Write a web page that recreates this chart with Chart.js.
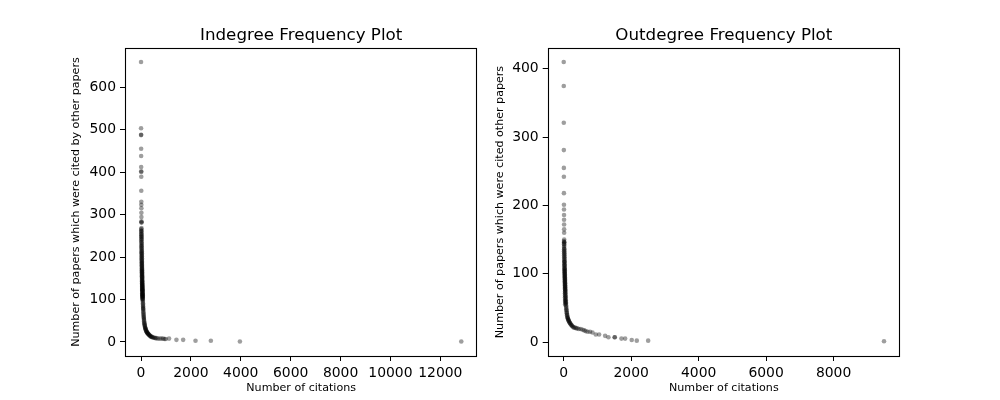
<!DOCTYPE html>
<html>
<head>
<meta charset="utf-8">
<script src="https://cdn.jsdelivr.net/npm/chart.js@4/dist/chart.umd.min.js"></script>
<style>
  html, body { margin: 0; padding: 0; background: #fff; }
  #wrap { position: relative; width: 1000px; height: 400px; overflow: hidden; }
  canvas { position: absolute; top: 0; }
  #inChart { left: 0; }
  #outChart { left: 450px; }
</style>
</head>
<body>
<div id="wrap">
  <canvas id="inChart" width="500" height="400"></canvas>
  <canvas id="outChart" width="550" height="400"></canvas>
</div>
<script>
// indegree: number of citations -> number of papers
const inDegree = [1,2,3,4,5,6,7,8,9,10,11,12,13,14,15,16,17,18,19,20,
  21,22,23,24,25,26,27,28,29,30,31,32,33,34,35,36,37,38,39,40,
  41,42,43,44,45,46,47,48,49,50,51,52,53,54,55,56,57,58,59,60,
  61,62,63,64,65,66,67,68,69,70,72,74,76,78,80,82,84,86,88,90,
  93,96,99,102,105,108,112,116,120,125,130,135,140,146,152,158,165,172,180,188,
  196,205,215,225,236,248,260,273,287,302,318,335,353,372,392,415,440,470,505,545,
  580,620,680,750,820,885,940,990,1125,1420,1690,2185,2800,3965,12840,
  8,11,14,9,16,12,18,10,15,21,13,17,24,19,22,26,20,28,23,30,
  25,27,32,29,34,31,36,33,38,35,40,37,42,39,44,41,46,43,48,45,
  50,47,52,49,54,51,56,53,58,55,60,57];
const inCount = [659,503,487,488,455,438,412,402,400,389,356,330,323,315,304,294,284,282,281,268,
  262,256,251,246,241,236,231,226,222,217,213,209,205,201,197,193,189,186,182,179,
  175,172,169,166,163,160,157,154,151,149,146,143,141,138,136,133,131,129,126,124,
  122,120,118,116,114,112,110,108,106,104,101,97,94,91,88,85,83,80,78,76,
  73,70,67,64,62,59,57,54,52,49,46,44,42,40,38,36,34,33,31,30,
  28,27,25,24,23,22,21,20,19,18,17,16,15,14,13,12,12,11,10,10,
  9,9,8,8,8,8,7,7,8,5,5,3,3,1,1,
  266,262,259,254,250,247,243,239,234,229,225,220,215,211,207,203,199,195,191,187,
  184,180,177,173,170,167,164,161,158,155,152,148,145,142,139,137,134,132,130,127,
  125,123,121,118,115,113,111,109,107,105,102,100];

// outdegree
const outDegree = [1,2,3,4,5,6,7,8,9,10,11,12,13,14,15,16,17,18,19,20,
  21,22,23,24,25,26,27,28,29,30,31,32,33,34,35,36,37,38,39,40,
  41,42,43,44,45,46,47,48,49,50,52,54,56,58,60,62,64,66,68,70,
  73,76,79,82,86,90,94,98,103,108,114,120,127,134,142,150,160,170,182,195,
  210,225,240,258,280,305,340,370,406,450,505,560,610,653,710,780,852,950,1050,1228,
  1326,1510,1515,1712,1821,2017,2166,2504,9494,
  9,11,13,10,14,12,16,15,19,17,21,18,23,20,25,22,27,24,29,26,
  31,28,33,30,35,32,37,34,39,36,41,38,43,40,45,42];
const outCount = [410,375,321,281,255,242,218,201,194,186,179,172,165,160,150,146,146,141,137,134,
  131,128,125,122,119,117,114,112,109,107,105,103,101,99,97,95,93,91,90,88,
  86,85,83,82,80,79,77,76,75,73,71,69,67,65,63,61,59,58,56,54,
  52,50,48,47,45,43,42,40,39,37,36,35,34,33,32,31,30,29,28,27,
  26,25,24,23,22,21,21,20,20,19,19,18,17,16,15,15,14,11,11,9,
  7,7,7,5,5,3,2,2,1,
  148,144,143,139,136,133,130,127,124,121,118,116,113,111,108,106,104,102,100,98,
  96,94,92,89,87,84,81,78,74,71,68,65,62,60,57,55];

const inXTicks = [0,2000,4000,6000,8000,10000,12000];
const inYTicks = [0,100,200,300,400,500,600];
const outXTicks = [0,2000,4000,6000,8000];
const outYTicks = [0,100,200,300,400];

const tickFont = { family: 'DejaVu Sans', size: 13.9 };
const labelFont = { family: 'DejaVu Sans', size: 11.1 };

// box round the plot area, like matplotlib spines
const frame = {
  id: 'frame',
  afterDatasetsDraw(chart) {
    const a = chart.chartArea, c = chart.ctx;
    c.save();
    c.strokeStyle = '#000';
    c.lineWidth = 1.1;
    c.strokeRect(Math.round(a.left) + 0.5, Math.round(a.top) + 0.5,
      Math.round(a.width) - 1, Math.round(a.height));
    c.restore();
  }
};

function axis(ticks, min, max, title, fit) {
  return {
    type: 'linear', min: min, max: max,
    afterBuildTicks: s => { s.ticks = ticks.map(v => ({ value: v })); },
    afterFit: fit,
    grid: { display: true, drawOnChartArea: false, drawTicks: true, tickLength: 5, color: '#000', lineWidth: 1 },
    border: { display: false },
    ticks: { color: '#000', font: tickFont, padding: 4, callback: v => String(v), maxRotation: 0 },
    title: title
  };
}

function makeChart(id, xs, ys, opts) {
  return new Chart(document.getElementById(id), {
    type: 'scatter',
    data: {
      datasets: [{
        data: xs.map((x, i) => ({ x: x, y: ys[i] })),
        backgroundColor: 'rgba(0,0,0,0.38)',
        borderWidth: 0,
        pointRadius: 2.3,
        pointHoverRadius: 2.3
      }]
    },
    options: {
      responsive: false,
      animation: false,
      devicePixelRatio: 1,
      layout: { padding: { left: 0, right: opts.padRight, top: 0, bottom: 0 } },
      plugins: {
        legend: { display: false },
        tooltip: { enabled: false },
        title: {
          display: true, text: opts.title, fullSize: false, color: '#000',
          font: { family: 'DejaVu Sans', size: 16.7, weight: 'normal' },
          padding: { top: 26, bottom: 2 }
        }
      },
      scales: {
        x: axis(opts.xTicks, opts.xMin, opts.xMax,
          { display: true, text: 'Number of citations', color: '#000', font: labelFont, padding: { top: 0, bottom: 5.3 } },
          s => { s.height = 44; }),
        y: axis(opts.yTicks, opts.yMin, opts.yMax,
          { display: true, text: opts.yLabel, color: '#000', font: labelFont, padding: { top: opts.yTitlePad, bottom: 0 } },
          s => { s.width = opts.yWidth; })
      }
    },
    plugins: [frame]
  });
}

makeChart('inChart', inDegree, inCount, {
  title: 'Indegree Frequency Plot',
  yLabel: 'Number of papers which were cited by other papers',
  xTicks: inXTicks, yTicks: inYTicks,
  xMin: -642, xMax: 13482, yMin: -33, yMax: 692,
  padRight: 22.7, yWidth: 125, yTitlePad: 69.4
});

makeChart('outChart', outDegree, outCount, {
  title: 'Outdegree Frequency Plot',
  yLabel: 'Number of papers which were cited other papers',
  xTicks: outXTicks, yTicks: outYTicks,
  xMin: -474, xMax: 9968, yMin: -20.5, yMax: 430.5,
  padRight: 100, yWidth: 97.7, yTitlePad: 43.4
});
</script>
</body>
</html>
